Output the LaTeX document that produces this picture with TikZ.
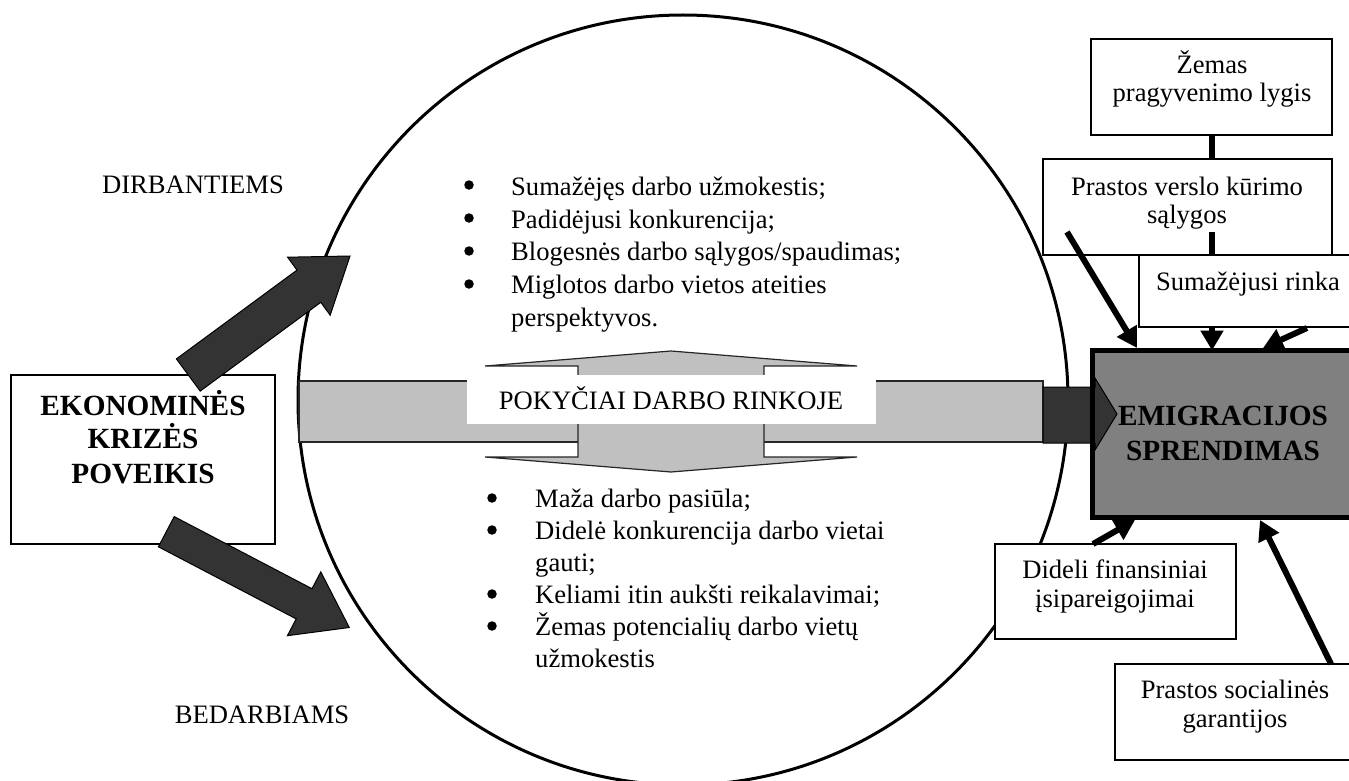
\documentclass[tikz,border=0pt]{standalone}
\usepackage{fontspec}
\setmainfont{Liberation Serif}
\usetikzlibrary{arrows.meta}
\definecolor{lightg}{RGB}{192,192,192}
\definecolor{darkg}{RGB}{51,51,51}
\definecolor{midg}{RGB}{128,128,128}
\begin{document}
\begin{tikzpicture}[x=1pt,y=-1pt,
  box/.style={draw=black,line width=1.5pt,fill=white,anchor=north west,outer sep=0pt,inner sep=0pt},
  txt/.style={font=\fontsize{26.6}{30}\selectfont,inner sep=0pt,anchor=base},
  ltxt/.style={font=\fontsize{26.6}{30}\selectfont,inner sep=0pt,anchor=base west},
  btxt/.style={font=\fontsize{29.3}{34}\selectfont\bfseries,inner sep=0pt,anchor=base},
  bul/.style={circle,fill=black,inner sep=0pt,minimum size=9.5pt},
  conn/.style={line width=6pt,-{Triangle[length=20pt,width=22pt]}},
  thickline/.style={line width=6pt},
  blk/.style={fill=darkg,draw=black,line width=1pt,line join=miter},
  grayshape/.style={fill=lightg,draw=black!85,line width=1.2pt,line join=miter},
]
\useasboundingbox (0,0) rectangle (1349,781);
\clip (0,0) rectangle (1349,781);

% big circle
\draw[line width=3pt] (683,400) circle[radius=385];

% labels
\node[txt] (dirb) at (193,193) {DIRBANTIEMS};
\node[txt] (bedarb) at (262,723) {BEDARBIAMS};

% left box
\node[box,minimum width=264pt,minimum height=169pt] (ekon) at (11,375) {};
\node[btxt] (ek1) at (143,415) {EKONOMINĖS};
\node[btxt] (ek2) at (143,448) {KRIZĖS};
\node[btxt] (ek3) at (143,483) {POVEIKIS};

% dark arrows from left box
\draw[blk] (176.4,358.9) -- (297.0,270.1) -- (287.6,257.2) -- (350,256) -- (330.2,315.2) -- (320.8,302.3) -- (200.2,391.1) -- cycle;
\draw[blk] (174.2,516.6) -- (312.0,588.7) -- (320.8,571.9) -- (349.3,627.5) -- (287.4,635.7) -- (296.2,618.9) -- (158.4,546.8) -- cycle;

% central gray bar and up-down arrow
\draw[grayshape] (299,381) rectangle (1043,442);
\draw[grayshape] (578,366) -- (485,366) -- (671,351) -- (857,366) -- (764,366) -- (764,457) -- (857,457) -- (671,472) -- (485,457) -- (578,457) -- cycle;
\node[fill=white,anchor=north west,outer sep=0pt,inner sep=0pt,minimum width=409pt,minimum height=49pt] (pokbox) at (467,375) {};
\node[txt] (pok) at (671,409) {POKYČIAI DARBO RINKOJE};

% bullet lists
\node[bul] (b1) at (469,185) {};
\node[ltxt] (t1) at (511,195) {Sumažėjęs darbo užmokestis;};
\node[bul] (b2) at (469,218) {};
\node[ltxt] (t2) at (511,228) {Padidėjusi konkurencija;};
\node[bul] (b3) at (469,251) {};
\node[ltxt] (t3) at (511,260) {Blogesnės darbo sąlygos/spaudimas;};
\node[bul] (b4) at (469,284) {};
\node[ltxt] (t4) at (511,293) {Miglotos darbo vietos ateities};
\node[ltxt] (t5) at (511,326) {perspektyvos.};

\node[bul] (c1) at (492,498) {};
\node[ltxt] (u1) at (535,507) {Maža darbo pasiūla;};
\node[bul] (c2) at (492,530) {};
\node[ltxt] (u2) at (535,539) {Didelė konkurencija darbo vietai};
\node[ltxt] (u3) at (535,571) {gauti;};
\node[bul] (c3) at (492,594) {};
\node[ltxt] (u4) at (535,603) {Keliami itin aukšti reikalavimai;};
\node[bul] (c4) at (492,626) {};
\node[ltxt] (u5) at (535,635) {Žemas potencialių darbo vietų};
\node[ltxt] (u6) at (535,667) {užmokestis};

% emigration box
\node[draw=black,line width=5pt,fill=midg,anchor=north west,outer sep=0pt,inner sep=0pt,minimum width=300pt,minimum height=167pt] (emig) at (1092.5,350.5) {};
\draw[blk] (1043,387) -- (1095,387) -- (1095,378) -- (1117,414) -- (1095,450) -- (1095,443) -- (1043,443) -- cycle;
\draw[line width=5pt] ([yshift=2.5pt]emig.north west) -- ([yshift=-2.5pt]emig.south west);
\node[btxt] (em1) at (1223,425) {EMIGRACIJOS};
\node[btxt] (em2) at (1223,460) {SPRENDIMAS};

% top right boxes
\node[box,minimum width=241pt,minimum height=96pt] (zem) at (1091,39) {};
\node[txt] (zem1) at (1212,74) {Žemas};
\node[txt] (zem2) at (1212,102) {pragyvenimo lygis};
\node[box,minimum width=289pt,minimum height=96pt] (pv) at (1043,159) {};
\node[txt] (pv1) at (1187,195) {Prastos verslo kūrimo};
\node[txt] (pv2) at (1187,223) {sąlygos};
\node[box,minimum width=218pt,minimum height=72pt] (sum) at (1139,255) {};
\node[txt] (sum1) at (1248,290) {Sumažėjusi rinka};

% bottom right boxes
\node[box,minimum width=241pt,minimum height=95pt] (did) at (995,544) {};
\node[txt] (did1) at (1115,578) {Dideli finansiniai};
\node[txt] (did2) at (1115,607) {įsipareigojimai};
\node[box,minimum width=240pt,minimum height=96pt] (soc) at (1115,664) {};
\node[txt] (soc1) at (1235,698) {Prastos socialinės};
\node[txt] (soc2) at (1235,727) {garantijos};

% connectors
\coordinate (pvin) at (1212,232);
\coordinate (pvdiag) at (1067,232);
\coordinate (sumb) at (1212,327);
\coordinate (sumr) at (1307,328);
\coordinate (didt) at (1093,544);
\coordinate (soct) at (1331,664);
\draw[thickline] (zem.south) -- (zem.south |- pv.north);
\draw[thickline] (pvin) -- (pvin |- sum.north);
\draw[conn] (sumb) -- (sumb |- emig.north);
\draw[conn] (pvdiag) -- (1137,348);
\draw[conn] (sumr) -- (1263,348);
\draw[conn] (didt) -- (1135,520);
\draw[conn] (soct) -- (1260,520);
\end{tikzpicture}
\end{document}
